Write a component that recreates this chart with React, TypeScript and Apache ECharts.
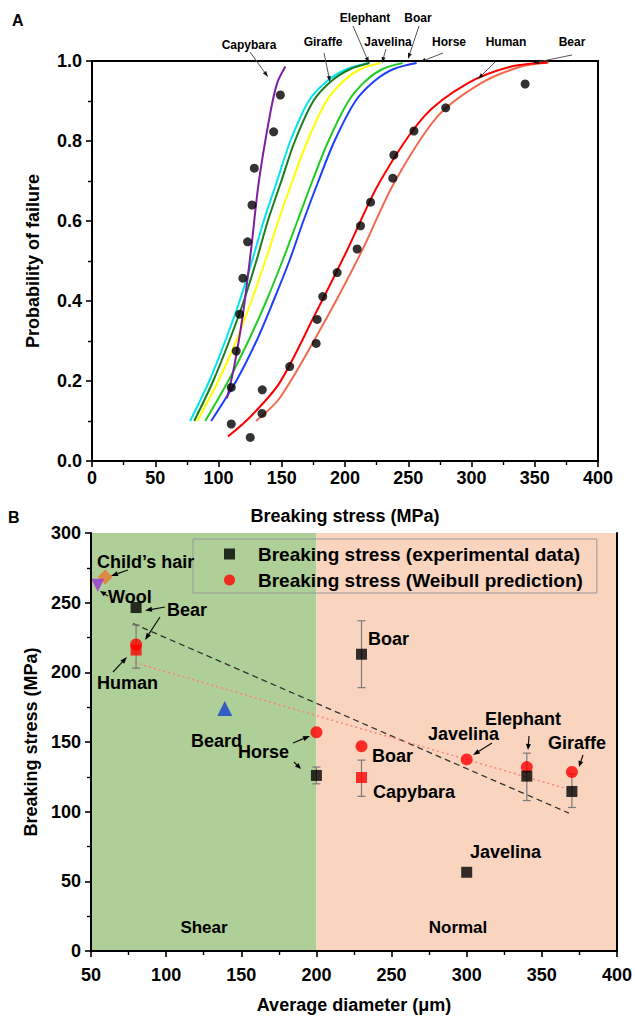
import React, { useEffect, useRef } from "react";
import * as echarts from "echarts";

const FONT = '"Liberation Sans", Arial, Helvetica, sans-serif';

// ---------- Panel A: probability of failure curves ----------
const giraffeCurve = [[77.6, 0.1], [92.7, 0.2], [105.3, 0.3], [116.7, 0.4], [126.5, 0.5], [135.7, 0.6], [146.3, 0.7], [156.8, 0.8], [171.3, 0.9], [185.9, 0.95], [201.7, 0.98], [218.6, 0.995]];
const elephantCurve = [[80.8, 0.1], [95.8, 0.2], [108.5, 0.3], [120, 0.4], [129.9, 0.5], [139, 0.6], [149.7, 0.7], [160.4, 0.8], [175, 0.9], [189.3, 0.95], [204.3, 0.98], [219.4, 0.995]];
const javelinaCurve = [[83.2, 0.1], [99.8, 0.2], [114, 0.3], [126, 0.4], [137, 0.5], [147.3, 0.6], [158.4, 0.7], [170.3, 0.8], [185.3, 0.9], [198.8, 0.95], [212.3, 0.98], [228, 0.995]];
const boarCurve = [[89.5, 0.1], [107.7, 0.2], [123.6, 0.3], [137.8, 0.4], [150.5, 0.5], [162.4, 0.6], [174.2, 0.7], [186.9, 0.8], [202.8, 0.9], [216.2, 0.95], [229.7, 0.98], [245.5, 0.995]];
const horseCurve = [[94.2, 0.1], [114, 0.2], [130, 0.3], [143.4, 0.4], [156, 0.5], [167.1, 0.6], [179, 0.7], [191.7, 0.8], [208.3, 0.9], [223.3, 0.95], [238.4, 0.98], [256.6, 0.995]];
const humanCurve = [[107.5, 0.061], [125, 0.11], [148, 0.194], [175.3, 0.36], [201.7, 0.527], [226.8, 0.694], [262.4, 0.861], [296.8, 0.944], [330, 0.985], [360, 0.996]];
const bearCurve = [[129.6, 0.1], [149, 0.16], [185.9, 0.36], [213.6, 0.527], [238.6, 0.694], [273, 0.861], [307.3, 0.944], [338, 0.985], [361, 0.996]];
const capybaraCurve = [[106.7, 0.157], [112, 0.23], [119, 0.36], [125.7, 0.527], [131.7, 0.694], [140.4, 0.861], [146.3, 0.944], [152.9, 0.986]];

const capybaraDotsX = [110.1, 110.1, 114, 116.7, 119.3, 123, 126.5, 128.3, 143.6, 148.9];
const capybaraDotsY = [0.0925, 0.184, 0.275, 0.367, 0.457, 0.548, 0.64, 0.732, 0.823, 0.915];
const humanDotsX = [125.1, 134.4, 134.6, 156.3, 177.2, 178, 182.4, 193.8, 209.6, 212.3, 220.2, 237.8, 238.6, 254.5, 279.6, 342.4];
const humanDotsY = [0.059, 0.119, 0.178, 0.236, 0.294, 0.354, 0.411, 0.471, 0.53, 0.588, 0.647, 0.707, 0.765, 0.825, 0.883, 0.9425];

const xTicksA = [0, 400, 50];
const yTicksA = [0, 1, 0.2];

// ---------- Panel B: breaking stress vs diameter ----------
const expNames = ["Bear", "Human", "Horse", "Boar", "Capybara", "Javelina", "Elephant", "Giraffe"];
const expDiameter = [80, 80, 200, 230, 230, 300, 340, 370];
const expStress = [246.5, 216, 126, 213, 124.5, 56.5, 125.5, 114.5];

const errDiameter = [80, 200, 230, 230, 340, 370];
const errLow = [203, 120, 189, 111, 108, 103];
const errHigh = [234, 132, 237, 137, 142, 127];

const weibullDiameter = [80, 200, 230, 300, 340, 370];
const weibullStress = [220, 157, 147, 137.5, 132, 128.5];

const fitExperimental = [[78, 235], [368, 99]];
const fitWeibull = [[79, 207], [368, 116]];

const childHair = [[59.5, 268.5]];
const wool = [[54.5, 262.5]];
const beard = [[139, 174]];

const regionSpans = [[50, 200], [200, 400]];
const regionNames = ["Shear", "Normal"];

const xTicksB = [50, 400, 50];
const yTicksB = [0, 300, 50];

const LEGEND_EXP = "Breaking stress (experimental data)";
const LEGEND_WEI = "Breaking stress (Weibull prediction)";

function arrowEls(x1: number, y1: number, x2: number, y2: number, stroke: string, head: string, lw: number, hl: number, hw: number) {
  const dx = x2 - x1, dy = y2 - y1;
  const L = Math.hypot(dx, dy) || 1;
  const ux = dx / L, uy = dy / L;
  const bx = x2 - ux * hl, by = y2 - uy * hl;
  const px = (-uy * hw) / 2, py = (ux * hw) / 2;
  return [
    { type: "line", z: 100, silent: true, shape: { x1, y1, x2: bx, y2: by }, style: { stroke, lineWidth: lw } },
    { type: "polygon", z: 100, silent: true, shape: { points: [[x2, y2], [bx + px, by + py], [bx - px, by - py]] }, style: { fill: head } },
  ];
}

function textEl(text: string, x: number, y: number, font: string, align = "left", rotation = 0) {
  return {
    type: "text",
    z: 100,
    silent: true,
    x,
    y,
    rotation,
    style: { text, font, fill: "#000", align, textAlign: align, verticalAlign: "middle", textVerticalAlign: "middle" },
  };
}

export default function App() {
  const ref = useRef<HTMLDivElement>(null);
  useEffect(() => {
    if (!ref.current) return;
    const chart = echarts.init(ref.current, undefined, { renderer: "svg" });

    const axisLine = { show: true, lineStyle: { color: "#000", width: 2 } };
    const labelStyle = { color: "#000", fontWeight: "bold" as const, fontSize: 18, fontFamily: FONT };
    const nameStyle = { color: "#000", fontWeight: "bold" as const, fontSize: 18, fontFamily: FONT };
    const tick = { show: true, length: 6, lineStyle: { color: "#000", width: 1.6 } };
    const minor = { show: true, splitNumber: 2, length: 4, lineStyle: { color: "#000", width: 1.4 } };

    const curveDefs = [
      { name: "Giraffe", color: "#00e5ee", pts: giraffeCurve },
      { name: "Elephant", color: "#1b7d1b", pts: elephantCurve },
      { name: "Javelina", color: "#ffff00", pts: javelinaCurve },
      { name: "Boar", color: "#22cc22", pts: boarCurve },
      { name: "Horse", color: "#1f3fff", pts: horseCurve },
      { name: "Bear", color: "#f26a4f", pts: bearCurve },
      { name: "Human", color: "#ff0000", pts: humanCurve },
      { name: "Capybara", color: "#7f1f9f", pts: capybaraCurve },
    ];

    const redExp = ["Human", "Capybara"];

    const topFont = `bold 12px ${FONT}`;
    const botFont = `bold 18px ${FONT}`;
    const zoneFont = `bold 17px ${FONT}`;

    const graphics: any[] = [
      textEl("A", 12, 20, `bold 16px ${FONT}`),
      textEl("B", 8, 517, `bold 16px ${FONT}`),
      // panel A labels
      textEl("Capybara", 249, 45, topFont, "center"),
      textEl("Giraffe", 323, 42, topFont, "center"),
      textEl("Elephant", 365, 18, topFont, "center"),
      textEl("Boar", 418, 18, topFont, "center"),
      textEl("Javelina", 388, 42, topFont, "center"),
      textEl("Horse", 449, 42, topFont, "center"),
      textEl("Human", 506, 42, topFont, "center"),
      textEl("Bear", 572, 42, topFont, "center"),
      ...arrowEls(250, 52, 268, 77, "#555", "#111", 1, 6, 4),
      ...arrowEls(324, 53, 330, 82, "#555", "#111", 1, 6, 4),
      ...arrowEls(353, 26, 369, 63, "#555", "#111", 1, 6, 4),
      ...arrowEls(386, 49, 382, 63, "#555", "#111", 1, 6, 4),
      ...arrowEls(419, 26, 408, 59, "#555", "#111", 1, 6, 4),
      ...arrowEls(443, 53, 420, 62, "#555", "#111", 1, 6, 4),
      ...arrowEls(495, 62, 478, 79, "#555", "#111", 1, 6, 4),
      ...arrowEls(572, 55, 533, 63, "#555", "#111", 1, 6, 4),
      // panel B labels
      textEl("Child\u2019s hair", 97, 562, botFont),
      textEl("Wool", 108, 597, botFont),
      textEl("Bear", 167, 610, botFont),
      textEl("Human", 97, 683, botFont),
      textEl("Beard", 191, 741, botFont),
      textEl("Horse", 238, 752, botFont),
      textEl("Boar", 368, 639, botFont),
      textEl("Boar", 372, 756, botFont),
      textEl("Javelina", 428, 734, botFont),
      textEl("Elephant", 485, 719, botFont),
      textEl("Giraffe", 548, 743, botFont),
      textEl("Capybara", 373, 792, botFont),
      textEl("Javelina", 470, 852, botFont),
      textEl(regionNames[0], 204, 927, zoneFont, "center"),
      textEl(regionNames[1], 458, 927, zoneFont, "center"),
      ...arrowEls(128, 570, 111, 576, "#111", "#000", 1.2, 7, 5),
      ...arrowEls(108, 596, 100, 591, "#111", "#000", 1.2, 6, 5),
      ...arrowEls(165, 607, 145, 610.5, "#111", "#000", 1.2, 7, 5),
      ...arrowEls(160, 617, 145, 640, "#111", "#000", 1.2, 7, 5),
      ...arrowEls(113, 672, 127, 657, "#111", "#000", 1.2, 7, 5),
      ...arrowEls(293, 743, 310, 736, "#111", "#000", 1.2, 7, 5),
      ...arrowEls(294, 762, 301, 769, "#111", "#000", 1.2, 6, 5),
      ...arrowEls(492, 743, 473, 755, "#111", "#000", 1.2, 7, 5),
      ...arrowEls(529, 736, 528, 750, "#111", "#000", 1.2, 6, 5),
      ...arrowEls(583, 755, 579, 767, "#111", "#000", 1.2, 6, 5),
    ];

    const option: any = {
      animation: false,
      backgroundColor: "#fff",
      textStyle: { fontFamily: FONT },
      grid: [
        { left: 92, top: 61, width: 506, height: 400, show: true, borderColor: "#000", borderWidth: 2, containLabel: false },
        { left: 91, top: 533, width: 527, height: 418, show: false, containLabel: false },
      ],
      xAxis: [
        {
          gridIndex: 0, type: "value", min: xTicksA[0], max: xTicksA[1], interval: xTicksA[2],
          axisLine, axisTick: tick, minorTick: minor, splitLine: { show: false },
          axisLabel: { ...labelStyle, margin: 8 },
          name: "Breaking stress (MPa)", nameLocation: "middle", nameGap: 46, nameTextStyle: nameStyle, z: 10,
        },
        {
          gridIndex: 1, type: "value", min: xTicksB[0], max: xTicksB[1], interval: xTicksB[2],
          axisLine, axisTick: tick, minorTick: minor, splitLine: { show: false },
          axisLabel: { ...labelStyle, margin: 15 },
          name: "Average diameter (\u03bcm)", nameLocation: "middle", nameGap: 45, nameTextStyle: nameStyle, z: 10,
        },
        {
          gridIndex: 1, type: "value", position: "top", min: xTicksB[0], max: xTicksB[1], interval: xTicksB[2],
          axisLine, axisTick: { show: false }, axisLabel: { show: false }, splitLine: { show: false }, z: 10,
        },
      ],
      yAxis: [
        {
          gridIndex: 0, type: "value", min: yTicksA[0], max: yTicksA[1], interval: yTicksA[2],
          axisLine, axisTick: tick, minorTick: minor, splitLine: { show: false },
          axisLabel: { ...labelStyle, margin: 10, formatter: (v: number) => v.toFixed(1) },
          name: "Probability of failure", nameLocation: "middle", nameGap: 50, nameTextStyle: nameStyle, z: 10,
        },
        {
          gridIndex: 1, type: "value", min: yTicksB[0], max: yTicksB[1], interval: yTicksB[2],
          axisLine, axisTick: tick, minorTick: minor, splitLine: { show: false },
          axisLabel: { ...labelStyle, margin: 10 },
          name: "Breaking stress (MPa)", nameLocation: "middle", nameGap: 49, nameTextStyle: nameStyle, z: 10,
        },
        {
          gridIndex: 1, type: "value", position: "right", min: yTicksB[0], max: yTicksB[1], interval: yTicksB[2],
          axisLine, axisTick: { show: false }, axisLabel: { show: false }, splitLine: { show: false }, z: 10,
        },
      ],
      legend: {
        data: [
          { name: LEGEND_EXP, icon: "rect" },
          { name: LEGEND_WEI, icon: "circle" },
        ],
        orient: "vertical",
        left: 193,
        top: 539,
        itemWidth: 11,
        itemHeight: 11,
        itemGap: 4,
        padding: [4, 14, 2, 31],
        borderColor: "#999",
        borderWidth: 1,
        selectedMode: false,
        textStyle: { color: "#000", fontWeight: "bold", fontSize: 19, fontFamily: FONT, lineHeight: 22, padding: [0, 0, 0, 18] },
      },
      graphic: { elements: graphics },
      series: [
        ...curveDefs.map((c) => ({
          name: c.name,
          type: "line",
          xAxisIndex: 0,
          yAxisIndex: 0,
          data: c.pts,
          smooth: 0.3,
          showSymbol: false,
          symbol: "none",
          lineStyle: { color: c.color, width: 2 },
          itemStyle: { color: c.color },
          z: 3,
        })),
        {
          name: "Capybara data",
          type: "scatter",
          xAxisIndex: 0,
          yAxisIndex: 0,
          data: capybaraDotsX.map((x, i) => [x, capybaraDotsY[i]]),
          symbol: "circle",
          symbolSize: 9,
          itemStyle: { color: "#000" },
          z: 5,
        },
        {
          name: "Human data",
          type: "scatter",
          xAxisIndex: 0,
          yAxisIndex: 0,
          data: humanDotsX.map((x, i) => [x, humanDotsY[i]]),
          symbol: "circle",
          symbolSize: 9,
          itemStyle: { color: "#000" },
          z: 5,
        },
        // Panel B backgrounds
        {
          name: "regions",
          type: "custom",
          xAxisIndex: 1,
          yAxisIndex: 1,
          silent: true,
          z: 0,
          data: regionSpans.map((s, i) => [s[0], s[1], i]),
          renderItem: (_p: any, api: any) => {
            const a = api.coord([api.value(0), yTicksB[1]]);
            const b = api.coord([api.value(1), yTicksB[0]]);
            return {
              type: "rect",
              shape: { x: a[0], y: a[1], width: b[0] - a[0], height: b[1] - a[1] },
              style: { fill: api.value(2) === 0 ? "#aecf97" : "#f9d5c0" },
            };
          },
        },
        {
          name: "fit exp",
          type: "line",
          xAxisIndex: 1,
          yAxisIndex: 1,
          data: fitExperimental,
          symbol: "none",
          lineStyle: { color: "#333", width: 1.3, type: [6, 4] },
          z: 2,
        },
        {
          name: "fit weibull",
          type: "line",
          xAxisIndex: 1,
          yAxisIndex: 1,
          data: fitWeibull,
          symbol: "none",
          lineStyle: { color: "#ff8080", width: 1.5, type: [2, 3] },
          z: 2,
        },
        {
          name: "error bars",
          type: "custom",
          xAxisIndex: 1,
          yAxisIndex: 1,
          silent: true,
          z: 3,
          data: errDiameter.map((x, i) => [x, errLow[i], errHigh[i]]),
          renderItem: (_p: any, api: any) => {
            const hi = api.coord([api.value(0), api.value(2)]);
            const lo = api.coord([api.value(0), api.value(1)]);
            const cap = 4;
            const st = { stroke: "#7a7a7a", lineWidth: 1.2 };
            return {
              type: "group",
              children: [
                { type: "line", shape: { x1: hi[0], y1: hi[1], x2: lo[0], y2: lo[1] }, style: st },
                { type: "line", shape: { x1: hi[0] - cap, y1: hi[1], x2: hi[0] + cap, y2: hi[1] }, style: st },
                { type: "line", shape: { x1: lo[0] - cap, y1: lo[1], x2: lo[0] + cap, y2: lo[1] }, style: st },
              ],
            };
          },
        },
        {
          name: LEGEND_WEI,
          type: "scatter",
          xAxisIndex: 1,
          yAxisIndex: 1,
          data: weibullDiameter.map((x, i) => [x, weibullStress[i]]),
          symbol: "circle",
          symbolSize: 12,
          itemStyle: { color: "#ff0000" },
          z: 5,
        },
        {
          name: LEGEND_EXP,
          type: "scatter",
          xAxisIndex: 1,
          yAxisIndex: 1,
          data: expDiameter.map((x, i) => ({
            value: [x, expStress[i]],
            name: expNames[i],
            itemStyle: redExp.includes(expNames[i]) ? { color: "#ff0000" } : undefined,
          })),
          symbol: "rect",
          symbolSize: 11,
          itemStyle: { color: "#000" },
          z: 6,
        },
        {
          name: "Child\u2019s hair",
          type: "scatter",
          xAxisIndex: 1,
          yAxisIndex: 1,
          data: childHair,
          symbol: "diamond",
          symbolSize: 15,
          itemStyle: { color: "#e8792f" },
          z: 6,
        },
        {
          name: "Wool",
          type: "scatter",
          xAxisIndex: 1,
          yAxisIndex: 1,
          data: wool,
          symbol: "triangle",
          symbolRotate: 180,
          symbolSize: 13,
          itemStyle: { color: "#9b30d8" },
          z: 6,
        },
        {
          name: "Beard",
          type: "scatter",
          xAxisIndex: 1,
          yAxisIndex: 1,
          data: beard,
          symbol: "triangle",
          symbolSize: 15,
          itemStyle: { color: "#1440d0" },
          z: 6,
        },
      ],
    };

    chart.setOption(option);
    return () => chart.dispose();
  }, []);

  return <div ref={ref} style={{ position: "absolute", left: 0, top: 0, width: 635, height: 1022 }} />;
}
